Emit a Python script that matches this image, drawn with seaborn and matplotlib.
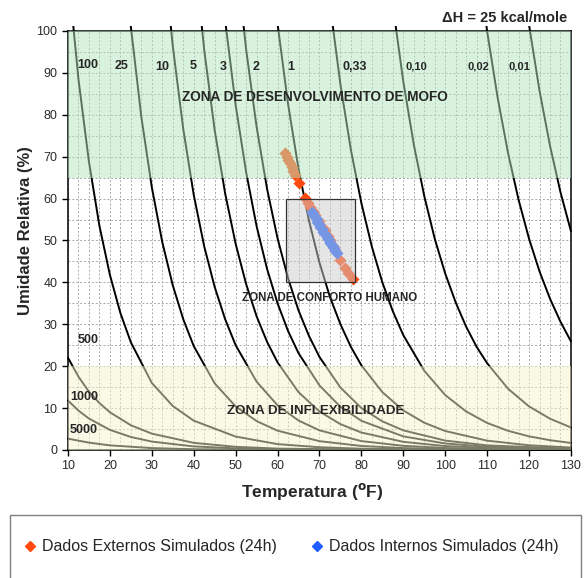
import matplotlib
matplotlib.use('Agg')
import pandas as pd
import matplotlib.pyplot as plt
from matplotlib.patches import Rectangle
from matplotlib.lines import Line2D
from matplotlib.ticker import MultipleLocator
from matplotlib.transforms import Bbox, TransformedBbox
import seaborn as sns

# isopermas (temperatura F, umidade relativa %)
t_p100 = [10, 12.5, 15, 17.5, 20, 22.5, 25, 30, 35, 40, 50, 60, 70, 80, 100, 130]
rh_p100 = [114.3, 88.5, 68.8, 53.5, 41.8, 32.7, 25.7, 16.0, 10.5, 7.0, 3.2, 1.4, 0.65, 0.30, 0.07, 0.01]
t_p25 = [22.5, 25, 27.5, 30, 32.5, 35, 37.5, 40, 45, 50, 55, 60, 70, 80, 90, 100, 130]
rh_p25 = [128.7, 101.0, 79.5, 62.7, 49.6, 39.3, 31.2, 24.8, 15.9, 10.4, 6.9, 4.6, 2.1, 0.96, 0.45, 0.21, 0.03]
t_p10 = [32.5, 35, 37.5, 40, 42.5, 45, 47.5, 50, 55, 60, 65, 70, 80, 90, 100, 110, 130]
rh_p10 = [121.6, 96.4, 76.6, 60.9, 48.6, 38.9, 31.2, 25.0, 16.3, 10.65, 7.03, 4.68, 2.12, 0.99, 0.47, 0.23, 0.06]
t_p5 = [40, 42.5, 45, 47.5, 50, 52.5, 55, 57.5, 60, 65, 70, 75, 80, 90, 100, 110, 130]
rh_p5 = [119.6, 95.5, 76.3, 61.2, 49.2, 39.6, 31.9, 25.8, 20.9, 13.8, 9.18, 6.16, 4.16, 1.94, 0.93, 0.46, 0.12]
t_p3 = [45, 47.5, 50, 52.5, 55, 57.5, 60, 62.5, 65, 70, 75, 80, 90, 100, 110, 130]
rh_p3 = [127.8, 102.5, 82.3, 66.3, 53.4, 43.2, 35.0, 28.4, 23.1, 15.4, 10.3, 6.96, 3.24, 1.55, 0.76, 0.20]
t_p2 = [50, 52.5, 55, 57.5, 60, 62.5, 65, 67.5, 70, 75, 80, 85, 90, 100, 110, 130]
rh_p2 = [118.8, 95.6, 77.1, 62.3, 50.5, 41.0, 33.3, 27.2, 22.2, 14.9, 10.0, 6.83, 4.68, 2.24, 1.10, 0.29]
t_p1 = [57.5, 60, 62.5, 65, 67.5, 70, 72.5, 75, 77.5, 80, 85, 90, 95, 100, 110, 120, 130]
rh_p1 = [125.5, 101.7, 82.6, 67.1, 54.7, 44.7, 36.5, 30.0, 24.6, 20.2, 13.8, 9.43, 6.50, 4.52, 2.22, 1.12, 0.58]
t_p033 = [70, 72.5, 75, 77.5, 80, 82.5, 85, 87.5, 90, 95, 100, 105, 110, 115, 120, 125, 130]
rh_p033 = [130.0, 106.4, 87.2, 71.6, 58.9, 48.5, 40.0, 33.1, 27.4, 18.9, 13.1, 9.18, 6.45, 4.57, 3.25, 2.33, 1.68]
t_p010 = [85, 87.5, 90, 92.5, 95, 97.5, 100, 102.5, 105, 107.5, 110, 115, 120, 125, 130]
rh_p010 = [128.3, 106.1, 87.9, 72.9, 60.6, 50.4, 42.1, 35.2, 29.4, 24.6, 20.7, 14.6, 10.4, 7.46, 5.37]
t_p002 = [107.5, 110, 112.5, 115, 117.5, 120, 122.5, 125, 127.5, 130]
rh_p002 = [119.2, 99.9, 84.1, 70.8, 59.7, 50.4, 42.6, 36.1, 30.6, 25.9]
t_p001 = [117.5, 120, 122.5, 125, 127.5, 130]
rh_p001 = [120.1, 101.4, 85.7, 72.6, 61.5, 52.2]
t_p500 = [10, 12.5, 15, 17.5, 20, 25, 30, 40, 50, 60, 80, 130]
rh_p500 = [22.0, 17.5, 13.9, 11.2, 9.0, 5.9, 3.9, 1.7, 0.75, 0.33, 0.07, 0.0]
t_p1000 = [10, 12.5, 15, 20, 25, 30, 40, 50, 60, 130]
rh_p1000 = [11.8, 9.4, 7.5, 4.8, 3.1, 2.0, 0.85, 0.38, 0.16, 0.0]
t_p5000 = [10, 15, 20, 30, 40, 60, 130]
rh_p5000 = [2.7, 1.75, 1.1, 0.45, 0.18, 0.03, 0.0]

# rotulos das curvas e posicao
curve_labels = ['100', '25', '10', '5', '3', '2', '1', '0,33', '0,10', '0,02', '0,01', '500', '1000', '5000']
label_t = [14.8, 22.8, 32.5, 39.8, 47.0, 54.9, 63.2, 78.3, 93.1, 107.9, 117.6, 14.7, 13.8, 13.7]
label_rh = [92.0, 91.7, 91.5, 91.7, 91.5, 91.5, 91.5, 91.5, 91.5, 91.5, 91.5, 26.2, 12.6, 4.8]

# dados simulados (24h)
ext_t = [61.8, 62.3, 62.6, 63.0, 63.4, 63.8, 64.2, 65.0, 66.6, 67.3, 67.8, 68.5,
         69.0, 69.8, 70.6, 71.3, 72.0, 72.5, 73.2, 73.7, 74.9, 76.1, 76.9, 77.9]
ext_rh = [70.8, 70.0, 69.3, 68.4, 67.6, 66.5, 65.6, 63.8, 60.1, 59.0, 58.1, 57.0,
          56.1, 54.6, 53.3, 52.5, 51.0, 50.1, 48.7, 47.7, 45.3, 43.4, 42.2, 40.7]
int_t = [68.2, 68.5, 69.0, 69.3, 69.5, 69.8, 70.1, 70.5, 70.9, 71.3, 71.7, 72.0,
         72.4, 72.6, 72.9, 73.2, 73.5, 73.8, 74.1]
int_rh = [56.9, 56.3, 55.7, 55.1, 54.5, 53.9, 53.3, 52.7, 52.1, 51.5, 50.9, 50.3,
          49.7, 49.3, 48.9, 48.5, 48.1, 47.6, 47.1]

curves = [('100', t_p100, rh_p100), ('25', t_p25, rh_p25), ('10', t_p10, rh_p10),
          ('5', t_p5, rh_p5), ('3', t_p3, rh_p3), ('2', t_p2, rh_p2), ('1', t_p1, rh_p1),
          ('0,33', t_p033, rh_p033), ('0,10', t_p010, rh_p010), ('0,02', t_p002, rh_p002),
          ('0,01', t_p001, rh_p001), ('500', t_p500, rh_p500), ('1000', t_p1000, rh_p1000),
          ('5000', t_p5000, rh_p5000)]
rows = []
for name, tt, rr in curves:
    for a, b in zip(tt, rr):
        rows.append((name, a, b))
df = pd.DataFrame(rows, columns=['curva', 'temp', 'ur'])

sns.set_style('white')
plt.rcParams['font.family'] = ['Liberation Sans', 'DejaVu Sans']
plt.rcParams['mathtext.default'] = 'bf'

fig = plt.figure(figsize=(5.84, 5.78), dpi=100)
ax = fig.add_axes([0.1164, 0.2215, 0.8613, 0.7249])

sns.lineplot(data=df, x='temp', y='ur', hue='curva', units='curva', estimator=None,
             sort=False, palette={c[0]: 'black' for c in curves}, legend=False,
             lw=1.4, ax=ax, zorder=2)
# as curvas passam um pouco alem da moldura, como no original
clip = TransformedBbox(Bbox([[-0.008, -0.01], [1.006, 1.012]]), ax.transAxes)
for ln in ax.lines:
    ln.set_clip_box(clip)

sns.scatterplot(x=ext_t, y=ext_rh, marker='D', color='#ff4a10', s=38, linewidth=0,
                ax=ax, zorder=3)
sns.scatterplot(x=int_t, y=int_rh, marker='D', color='#1f5fff', s=38, linewidth=0,
                ax=ax, zorder=3)

# zonas
ax.axhspan(65, 100, color=(0.70, 0.90, 0.75), alpha=0.5, lw=0, zorder=4)
ax.axhspan(0, 20, color=(0.96, 0.96, 0.80), alpha=0.5, lw=0, zorder=4)
ax.add_patch(Rectangle((62, 40), 16.5, 20, facecolor=(0.80, 0.80, 0.80), alpha=0.5,
                       lw=0, zorder=4))
ax.add_patch(Rectangle((62, 40), 16.5, 20, facecolor='none', edgecolor='#333333',
                       lw=0.9, zorder=5))

ax.text(68.9, 84.3, 'ZONA DE DESENVOLVIMENTO DE MOFO', ha='center', va='center',
        fontsize=9.8, weight='bold', zorder=6)
ax.text(72.5, 36.2, 'ZONA DE CONFORTO HUMANO', ha='center', va='center',
        fontsize=8.3, weight='bold', zorder=6)
ax.text(69.1, 9.2, 'ZONA DE INFLEXIBILIDADE', ha='center', va='center',
        fontsize=9.6, weight='bold', zorder=6)
for lab, x, y in zip(curve_labels, label_t, label_rh):
    fs = 8 if lab in ('0,10', '0,02', '0,01') else 9
    ax.text(x, y, lab, ha='center', va='center', fontsize=fs, weight='bold', zorder=6)

ax.set_xlim(10, 130)
ax.set_ylim(0, 100)
ax.xaxis.set_major_locator(MultipleLocator(10))
ax.xaxis.set_minor_locator(MultipleLocator(2.5))
ax.yaxis.set_major_locator(MultipleLocator(10))
ax.yaxis.set_minor_locator(MultipleLocator(5))
ax.grid(which='both', ls=(0, (2, 2)), color='#a8a8a8', lw=0.7, zorder=1)
ax.set_axisbelow(True)
ax.tick_params(which='major', direction='out', length=4, width=1, color='black',
               labelsize=9, labelcolor='#2a2a2a', bottom=True, left=True)
ax.tick_params(which='minor', length=0)
for sp in ax.spines.values():
    sp.set_color('black')
    sp.set_linewidth(1.1)

ax.set_xlabel(r'Temperatura ($^{o}$F)', fontsize=12.5, weight='bold', va='center')
ax.xaxis.set_label_coords(0.485, -0.098)
ax.set_ylabel('Umidade Relativa (%)', fontsize=12, weight='bold', va='center')
ax.yaxis.set_label_coords(-0.0845, 0.523)

fig.text(0.971, 0.969, 'ΔH = 25 kcal/mole', ha='right', va='center', fontsize=10.5,
         weight='bold')

# legenda com moldura propria (cortada na base da figura)
fig.add_artist(Rectangle((10 / 584, -0.02), 571 / 584, 0.129, transform=fig.transFigure,
                         fill=False, edgecolor='#808080', lw=1.0))
handles = [Line2D([], [], marker='D', ls='none', color='#ff4a10', markersize=5),
           Line2D([], [], marker='D', ls='none', color='#1f5fff', markersize=5)]
fig.legend(handles, ['Dados Externos Simulados (24h)', 'Dados Internos Simulados (24h)'],
           loc='center left', bbox_to_anchor=(24 / 584, 1 - 547 / 578), ncol=2,
           fontsize=11.5, frameon=False, borderpad=0, borderaxespad=0,
           handletextpad=0.3, handlelength=0.8, columnspacing=2.17)

fig.savefig('out.png', dpi=100)
